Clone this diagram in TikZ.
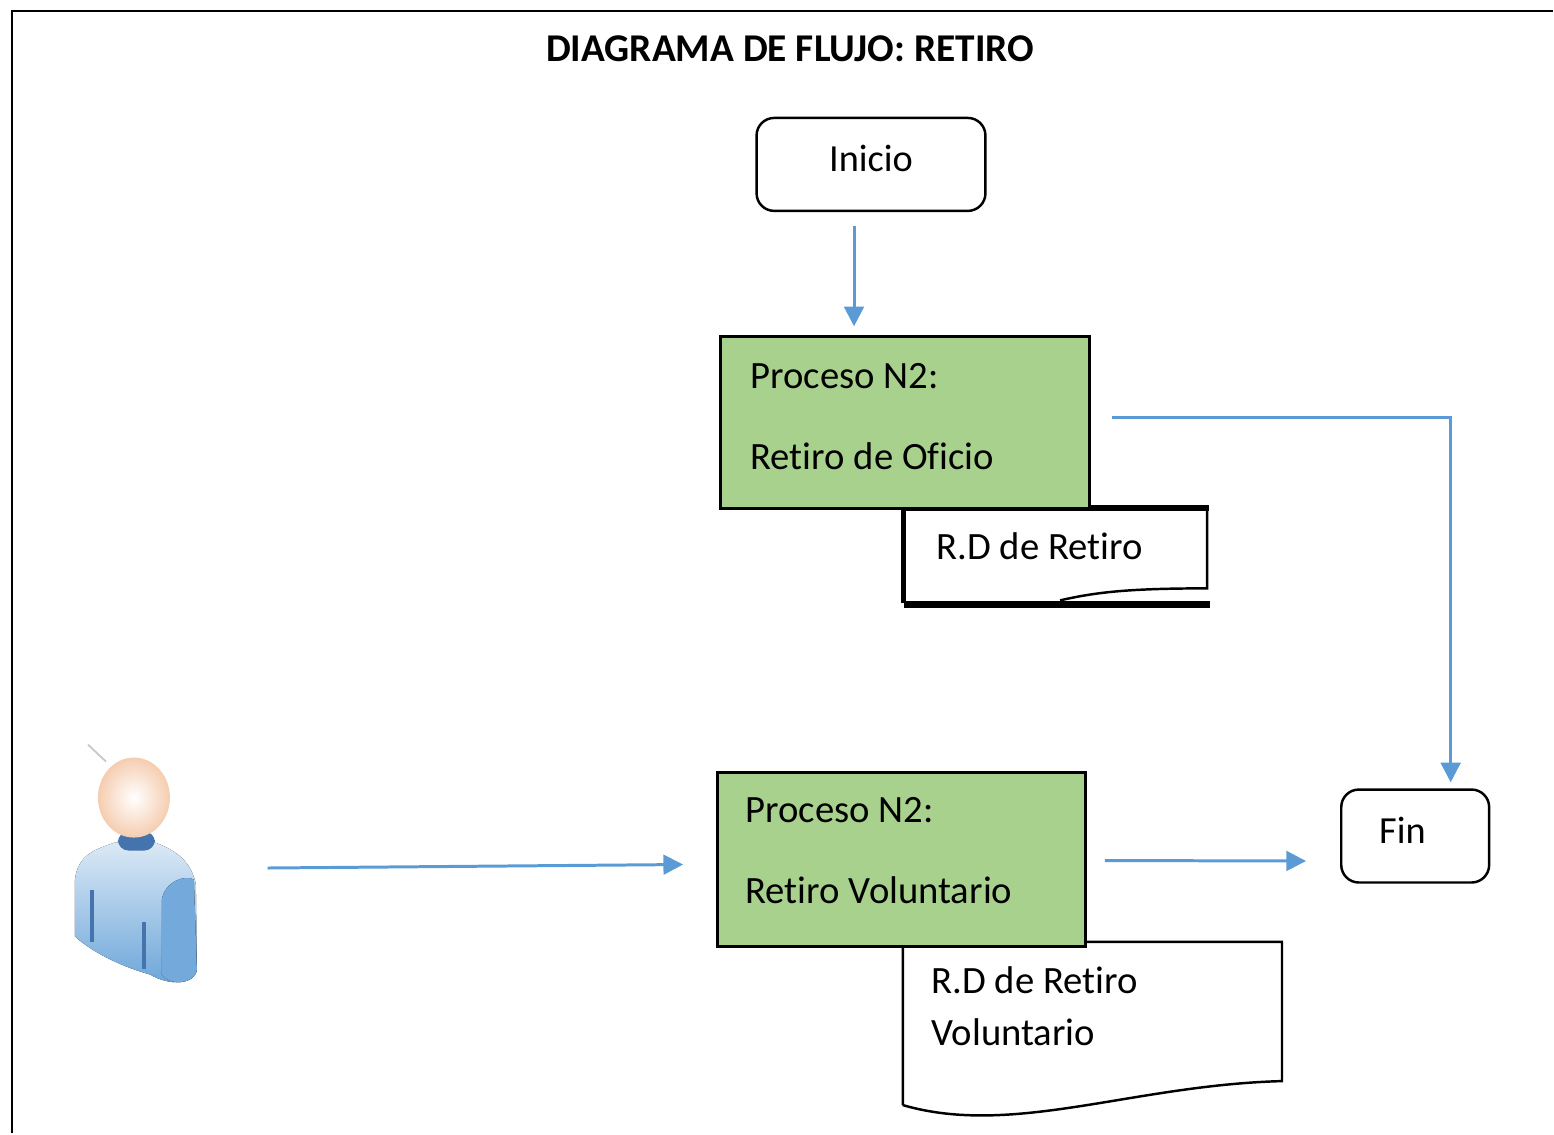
\documentclass[tikz,border=0pt]{standalone}
\usepackage{fontspec}
\setmainfont{Carlito}[Ligatures=NoCommon]
\usetikzlibrary{arrows.meta}

\definecolor{flowblue}{HTML}{5B9BD5}
\definecolor{procgreen}{HTML}{A9D18E}
\definecolor{skinpeach}{HTML}{F5CDB0}
\definecolor{collarblue}{HTML}{4473AE}

\tikzset{
  startbox/.style={rectangle, draw, line width=0.7pt, rounded corners=5pt, font=\fontsize{10.9pt}{12pt}\selectfont},
  procbox/.style={rectangle, draw, line width=0.85pt, fill=procgreen, align=flush left, inner sep=0pt, font=\fontsize{11pt}{23pt}\selectfont},
  docbox/.style={rectangle, align=flush left, inner sep=0pt, font=\fontsize{11pt}{14.8pt}\selectfont},
  flow/.style={draw=flowblue, line width=0.85pt, -{Triangle[length=5.6pt,width=5.6pt]}},
  bodypart/.style={shading=axis, shading angle=0}
}

\begin{document}
\begin{tikzpicture}
\def\dx{0.01cm}

\useasboundingbox (0,0) rectangle (15.54,-11.34);

% frame
\draw[line width=0.75pt] (12*\dx,-1134*\dx) -- (12*\dx,-11*\dx) -- (1554*\dx,-11*\dx);

\node[font=\bfseries\fontsize{11.2pt}{12pt}\selectfont,
      xshift=790.5*\dx,
      yshift=-49*\dx] (title) {DIAGRAMA DE FLUJO: RETIRO};

\node[startbox,
      minimum width=229*\dx,
      minimum height=93*\dx,
      text depth=3.2pt,
      xshift=871.5*\dx,
      yshift=-164.5*\dx] (inicio) {Inicio};

% documents first, the green boxes lie over them
\node[docbox,
      minimum width=302*\dx,
      minimum height=94*\dx,
      text width=238*\dx,
      text depth=5.6pt,
      xshift=1056*\dx,
      yshift=-556*\dx] (doc1) {R.D de Retiro};
\draw[line width=1.5pt] ([xshift=2*\dx]doc1.north east) -- (doc1.north west) -- (doc1.south west);
\draw[line width=0.7pt] (doc1.north east) -- ([yshift=15*\dx]doc1.south east)
      .. controls +(-0.8,0) and +(0.35,0.08) .. ([xshift=-147*\dx,yshift=3*\dx]doc1.south east);
\draw[line width=2pt] ([yshift=-1*\dx]doc1.south west) -- ([xshift=3*\dx,yshift=-1*\dx]doc1.south east);

\node[docbox,
      minimum width=378*\dx,
      minimum height=162*\dx,
      text width=322*\dx,
      text depth=24.6pt,
      xshift=1093*\dx,
      yshift=-1024*\dx] (doc2) {R.D de Retiro\\Voluntario};
\draw[line width=0.7pt] (doc2.south west) -- (doc2.north west) -- (doc2.north east)
      -- ([yshift=24*\dx]doc2.south east)
      .. controls +(-1.5,-0.04) and +(1.1,-0.32) .. (doc2.south west);

\node[procbox,
      minimum width=369*\dx,
      minimum height=172*\dx,
      text width=309*\dx,
      text depth=26.6pt,
      xshift=905.5*\dx,
      yshift=-423*\dx] (proc1) {Proceso N2:\\Retiro de Oficio};

\node[procbox,
      minimum width=368*\dx,
      minimum height=174*\dx,
      text width=312*\dx,
      text depth=28.3pt,
      xshift=902*\dx,
      yshift=-860*\dx] (proc2) {Proceso N2:\\Retiro Voluntario};

\node[startbox,
      minimum width=148*\dx,
      minimum height=93*\dx,
      text width=72*\dx,
      align=left,
      text depth=3.2pt,
      xshift=1416*\dx,
      yshift=-836.5*\dx] (fin) {Fin};

% person
\node[minimum width=130*\dx,
      minimum height=240*\dx,
      inner sep=0pt,
      xshift=135*\dx,
      yshift=-865*\dx] (persona) {};
\draw[black!22, line width=0.5pt] (88*\dx,-745*\dx) -- (106*\dx,-762*\dx);
\fill[bodypart, top color=flowblue!22, middle color=flowblue!45, bottom color=flowblue!90]
      (75*\dx,-937*\dx) -- (75*\dx,-880*\dx)
      .. controls (78*\dx,-855*\dx) and (95*\dx,-850*\dx) .. (115*\dx,-843*\dx)
      -- (155*\dx,-843*\dx)
      .. controls (180*\dx,-852*\dx) and (192*\dx,-865*\dx) .. (196*\dx,-885*\dx)
      -- (197*\dx,-970*\dx)
      .. controls (195*\dx,-985*\dx) and (170*\dx,-987*\dx) .. (150*\dx,-975*\dx)
      .. controls (125*\dx,-968*\dx) and (95*\dx,-955*\dx) .. cycle;
\fill[bodypart, left color=flowblue!85, middle color=flowblue!45, right color=flowblue!85]
      (162*\dx,-975*\dx) -- (162*\dx,-900*\dx)
      .. controls (165*\dx,-882*\dx) and (185*\dx,-875*\dx) .. (194*\dx,-880*\dx)
      -- (197*\dx,-970*\dx)
      .. controls (195*\dx,-985*\dx) and (170*\dx,-987*\dx) .. cycle;
\fill[collarblue, rounded corners=3pt] (118*\dx,-832*\dx) rectangle (155*\dx,-851*\dx);
\draw[collarblue, line width=0.9pt] (92*\dx,-890*\dx) -- (92*\dx,-943*\dx);
\draw[collarblue, line width=0.9pt] (144*\dx,-923*\dx) -- (144*\dx,-970*\dx);
\shade[inner color=white, outer color=skinpeach] (134*\dx,-798*\dx) ellipse (0.36 and 0.40);

% connectors
\draw[flow] ([xshift=-17*\dx,yshift=-14*\dx]inicio.south) -- ([xshift=-51*\dx,yshift=9*\dx]proc1.north);
\draw[flow] ([xshift=21*\dx,yshift=5*\dx]proc1.east) -| ([xshift=35.5*\dx,yshift=6*\dx]fin.north);
\draw[flow] ([xshift=67*\dx,yshift=-3.5*\dx]persona.east) -- ([xshift=-33*\dx,yshift=-5*\dx]proc2.west);
\draw[flow] ([xshift=18*\dx,yshift=-1*\dx]proc2.east) -- ([xshift=-34*\dx,yshift=-25*\dx]fin.west);
\end{tikzpicture}
\end{document}
